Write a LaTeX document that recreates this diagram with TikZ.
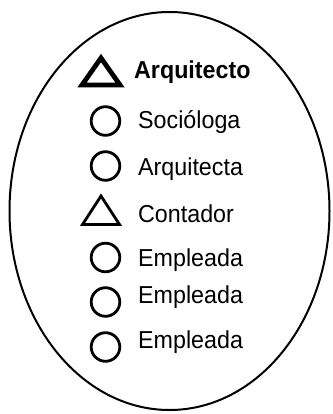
\documentclass[tikz,border=0pt]{standalone}
\usepackage{fontspec}
\setmainfont{Liberation Sans}
\usetikzlibrary{positioning}

\tikzset{
  member/.style={anchor=base west, inner sep=0pt, xscale=0.95, transform shape,
    font=\fontsize{24.5}{28}\selectfont},
  woman/.style={line width=2.8pt},
  man/.style={line width=2.8pt, line join=miter},
}

\begin{document}
\begin{tikzpicture}[x=1pt,y=-1pt]
    \useasboundingbox (0,0) rectangle (332,414);

    % Group outline
    \draw[line width=2pt] (169.5,211) ellipse [x radius=160, y radius=199];

    % Leader
    \draw[man, line width=4.8pt] (101,58) -- (120,85) -- (82,85) -- cycle;
    \node[member, font=\fontsize{24.5}{28}\selectfont\bfseries] (lead) at (134,79) {Arquitecto};

    % Members
    \draw[woman] (105.5,121) circle (14.3);
    \node[member] (soc) at (138,129) {Soci\'ologa};

    \draw[woman] (105.5,166) circle (14.3);
    \node[member] (arq) at (138,175) {Arquitecta};

    \draw[man] (101,196) -- (119.5,224.5) -- (82.5,224.5) -- cycle;
    \node[member] (cont) at (138,222) {Contador};

    \draw[woman] (105.5,257.5) circle (14.3);
    \node[member] (emp1) at (138,266.5) {Empleada};

    \draw[woman] (105.5,302) circle (14.3);
    \node[member] (emp2) at (138,303.5) {Empleada};

    \draw[woman] (105.5,347) circle (14.3);
    \node[member] (emp3) at (138,348.5) {Empleada};
\end{tikzpicture}
\end{document}
